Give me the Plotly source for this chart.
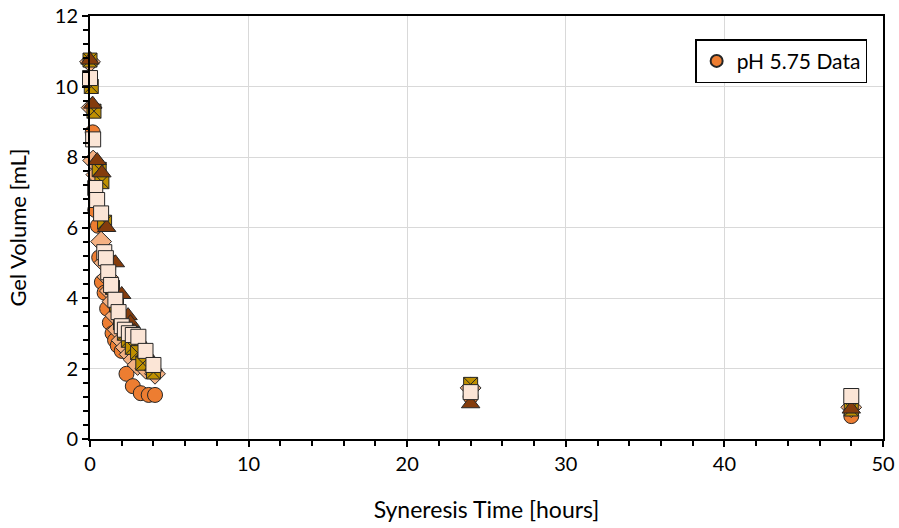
import plotly.graph_objects as go

# Syneresis time [hours] and gel volume [mL] for each replicate series
t_circle = [0, 0.17, 0.33, 0.5, 0.58, 0.75, 0.92, 1.08, 1.25, 1.42, 1.58, 1.75, 2.0, 2.3, 2.7, 3.2, 3.7, 4.1, 24, 48]
v_circle = [10.7, 8.7, 6.5, 6.05, 5.15, 4.45, 4.15, 3.7, 3.3, 3.0, 2.8, 2.65, 2.5, 1.85, 1.5, 1.3, 1.25, 1.25, 1.2, 0.65]

t_diamond = [0, 0.1, 0.2, 0.4, 0.7, 0.9, 1.1, 1.25, 1.42, 1.6, 1.75, 2.0, 2.25, 2.5, 2.75, 3.0, 3.5, 4.1, 24, 48]
v_diamond = [10.7, 9.4, 7.9, 7.5, 5.6, 5.0, 4.6, 4.2, 3.9, 3.5, 3.1, 2.8, 2.6, 2.4, 2.25, 2.1, 2.0, 1.85, 1.45, 0.9]

t_xmark = [0, 0.08, 0.25, 0.58, 0.75, 0.92, 1.17, 1.42, 1.67, 1.92, 2.17, 2.42, 2.67, 3.0, 3.33, 4.0, 24, 48]
v_xmark = [10.75, 10.0, 9.3, 7.65, 7.3, 6.15, 5.0, 4.3, 3.8, 3.3, 3.0, 2.8, 2.6, 2.45, 2.15, 1.9, 1.55, 0.85]

t_triangle = [0, 0.17, 0.45, 0.75, 1.05, 1.6, 2.0, 2.4, 2.55, 2.8, 3.0, 3.5, 4.0, 24, 48]
v_triangle = [10.75, 9.5, 7.9, 7.55, 6.0, 5.0, 4.1, 3.5, 3.3, 3.05, 2.85, 2.45, 2.05, 1.0, 0.85]

t_square = [0, 0.2, 0.33, 0.45, 0.7, 0.9, 1.0, 1.15, 1.33, 1.6, 1.8, 2.0, 2.2, 2.45, 2.7, 3.05, 3.5, 4.0, 24, 48]
v_square = [10.24, 8.5, 7.12, 6.78, 6.4, 5.3, 5.13, 4.73, 4.37, 3.95, 3.6, 3.2, 3.1, 3.0, 2.95, 2.9, 2.5, 2.1, 1.33, 1.22]

x_ticks = [0, 10, 20, 30, 40, 50]
y_ticks = [0, 2, 4, 6, 8, 10, 12]

FONT = "Lato, Calibri, Carlito, sans-serif"
EDGE = "#262626"

fig = go.Figure()

series = [
    ("pH 5.75 Data", t_circle, v_circle, "circle", "#ED7D31", 15, True),
    ("rep 2", t_diamond, v_diamond, "diamond", "#F4B183", 16, False),
    ("rep 3", t_xmark, v_xmark, "square-x", "#BF9000", 14, False),
    ("rep 4", t_triangle, v_triangle, "triangle-up", "#843C0C", 16, False),
    ("rep 5", t_square, v_square, "square", "#FBE5D6", 15, False),
]
for name, t, v, sym, col, size, show in series:
    fig.add_trace(go.Scatter(
        x=t, y=v, mode="markers", name=name, showlegend=show, cliponaxis=False,
        marker=dict(symbol=sym, size=size, color=col,
                    line=dict(color=EDGE, width=1)),
    ))

fig.update_layout(
    width=899, height=528,
    margin=dict(l=90, r=16, t=16, b=89, autoexpand=False),
    paper_bgcolor="white", plot_bgcolor="white",
    font=dict(family=FONT, size=20, color="#000000"),
    legend=dict(x=0.98, y=0.945, xanchor="right", yanchor="top",
                bordercolor="#000000", borderwidth=1.5, bgcolor="white",
                font=dict(size=21), itemsizing="constant"),
)
fig.update_xaxes(
    range=[0, 50], tickvals=x_ticks, showgrid=True, gridcolor="#D9D9D9",
    gridwidth=1.3, showline=True, linecolor="#000000", linewidth=2, mirror=True,
    ticks="outside", ticklen=6, tickwidth=2, tickcolor="#000000",
    minor=dict(dtick=2, ticks="outside", ticklen=5, tickwidth=1.5, tickcolor="#000000", showgrid=False),
    zeroline=False, automargin=False,
    title=dict(text="Syneresis Time [hours]", standoff=28, font=dict(size=23)),
)
fig.update_yaxes(
    range=[0, 12], tickvals=y_ticks, showgrid=True, gridcolor="#D9D9D9",
    gridwidth=1.3, showline=True, linecolor="#000000", linewidth=2, mirror=True,
    ticks="outside", ticklen=6, tickwidth=2, tickcolor="#000000",
    minor=dict(dtick=0.4, ticks="outside", ticklen=5, tickwidth=1.5, tickcolor="#000000", showgrid=False),
    zeroline=False, automargin=False,
    title=dict(text="Gel Volume [mL]", standoff=22, font=dict(size=22)),
)

fig.write_html("out.html")
